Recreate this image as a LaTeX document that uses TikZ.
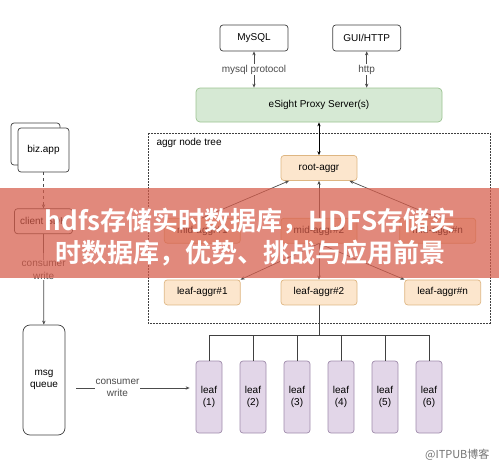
\documentclass[tikz,border=0pt]{standalone}
\usepackage{fontspec}
\setmainfont{Liberation Sans}
\newfontfamily\cjk{Noto Sans CJK SC}[BoldFont={* Bold}]
\usepackage{xcolor}
\definecolor{proxyGreen}{RGB}{214,233,212}
\definecolor{proxyGreenLine}{RGB}{155,195,145}
\definecolor{aggrOrange}{RGB}{252,230,205}
\definecolor{aggrOrangeLine}{RGB}{222,182,130}
\definecolor{leafPurple}{RGB}{226,214,232}
\definecolor{leafPurpleLine}{RGB}{160,140,172}
\definecolor{bannerRed}{RGB}{214,92,74}
\colorlet{colorLine}{black!75}
\colorlet{colorLink}{black!70}
\colorlet{colorMark}{black!55}
\usepackage{tikz}
\usetikzlibrary{arrows.meta, positioning}
\tikzset{every node/.append style={font=\fontsize{10}{12.5}\selectfont}}

\begin{document}
\begin{tikzpicture}[x=1pt, y=-1pt, >={Stealth[length=4pt, width=3.4pt]},
  plainbox/.style={draw=colorLine, line width=0.7pt, fill=white, rounded corners=3pt, minimum width=68pt, minimum height=26pt, inner sep=0pt, align=center},
  proxybox/.style={draw=proxyGreenLine, line width=0.7pt, fill=proxyGreen, rounded corners=4pt, minimum width=246pt, minimum height=34pt},
  aggrbox/.style={draw=aggrOrangeLine, line width=0.7pt, fill=aggrOrange, rounded corners=3pt, minimum width=76pt, minimum height=25pt, inner sep=0pt},
  leafbox/.style={draw=leafPurpleLine, line width=0.7pt, fill=leafPurple, rounded corners=3pt, minimum width=26pt, minimum height=72pt, inner sep=0pt, align=center},
  link/.style={colorLink, line width=0.7pt},
  tag/.style={fill=white, inner sep=1pt, align=center},
  bannertext/.style={text=white, font=\cjk\bfseries\fontsize{26}{28}\selectfont}]
\useasboundingbox (0,0) rectangle (499,469);
% top: clients of the proxy
\node[plainbox] (mysql) at (254,38) {MySQL};
\node[plainbox, right=44pt of mysql] (gui) {GUI/HTTP};
\node[proxybox] (proxy) at (319,105) {eSight Proxy Server(s)};
\draw [<->, link] (mysql) edge node [tag]{mysql protocol} (mysql |- proxy.north);
\draw [<->, link] (gui) edge node [tag]{http} (gui |- proxy.north);
% aggr node tree
\draw [colorLine, line width=0.7pt, dash pattern=on 1.6pt off 1.4pt] (148,133) rectangle (490,323);
\node[anchor=west] (treetitle) at (153,143) {aggr node tree};
\node[aggrbox] (root) at (319,168) {root-aggr};
\node[aggrbox, below=37pt of root] (mid2) {mid-aggr\#2};
\node[aggrbox, left=40pt of mid2] (mid1) {mid-aggr\#1};
\node[aggrbox, right=42pt of mid2] (midn) {mid-aggr\#n};
\node[aggrbox, below=36pt of mid2] (leafaggr2) {leaf-aggr\#2};
\node[aggrbox, left=40pt of leafaggr2] (leafaggr1) {leaf-aggr\#1};
\node[aggrbox, right=47pt of leafaggr2] (leafaggrn) {leaf-aggr\#n};
\draw [<->, black, line width=0.8pt] (proxy) -- (root);
\draw [->, link] (mid1.north) -- (root);
\draw [->, link] (mid2) -- (root);
\draw [->, link] (midn.north) -- (root);
\draw [->, link] (mid2.south) -- (leafaggr1.north east);
\draw [->, link] (mid2) -- (leafaggr2);
\draw [->, link] (mid2.south) -- (leafaggrn.north west);
% leaves
\node[leafbox] (leaf1) at (209,397) {leaf\\(1)};
\foreach \i [count=\j from 1] in {2,...,6}
  \node[leafbox, right=17.3pt of leaf\j] (leaf\i) {leaf\\(\i)};
\path (leafaggr2.south) ++(0,30) coordinate (bus);
\draw [colorLine, line width=0.8pt] (leafaggr2) -- (bus);
\draw [colorLine, line width=0.8pt] (leaf1.north) |- (bus) -| (leaf6.north);
\foreach \i in {2,...,5}
  \draw [colorLine, line width=0.8pt] (leaf\i.north) -- (leaf\i.north |- bus);
% left column
\node[plainbox, minimum width=49pt, minimum height=42pt] (bizback) at (35.5,144) {};
\node[plainbox, minimum width=51pt, minimum height=44pt] (biz) at (43.5,150) {biz.app};
\node[plainbox, minimum width=58pt, minimum height=25pt, below=36pt of biz] (client) {client SDK};
\node[plainbox, rounded corners=7pt, minimum width=42pt, minimum height=110pt] (queue) at (44,380) {msg\\queue};
\draw [->, link, dashed] (biz) -- (client);
\draw [->, link] (client) -- node [tag, pos=0.4]{consumer\\write} (queue);
\draw [->, link, shorten <=11pt, shorten >=6pt] ([yshift=-8pt]queue.east) -- node [tag, pos=0.4]{consumer\\write} ([yshift=-8pt]queue.east -| leaf1.west);
% title banner over the picture
\fill [bannerRed, opacity=0.72] (0,188) rectangle (499,278);
\node[bannertext] (title1) at (250,221) {hdfs存储实时数据库，HDFS存储实};
\node[bannertext] (title2) at (251,253) {时数据库，优势、挑战与应用前景};
\node[anchor=east, text=colorMark, font=\cjk\fontsize{11}{13}\selectfont] (mark) at (493,455) {@ITPUB博客};
\end{tikzpicture}
\end{document}
